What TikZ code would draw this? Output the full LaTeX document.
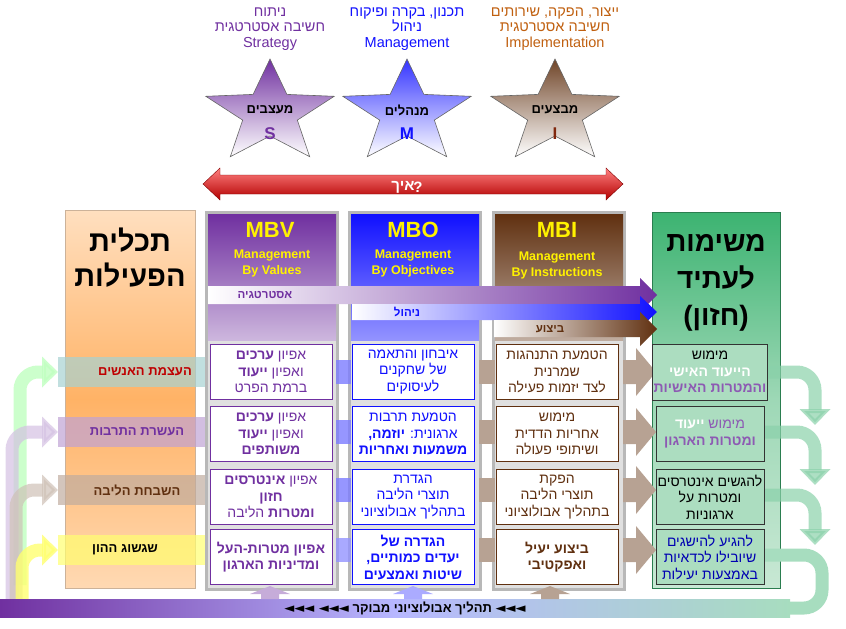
\documentclass[tikz,border=0pt]{standalone}
\usepackage{fontspec}
\setmainfont{Liberation Sans}
\newfontfamily\hebfont[Script=Hebrew]{Liberation Sans}
\newfontfamily\latfont{Liberation Sans}
\newfontfamily\symfont{DejaVu Sans}
\usetikzlibrary{shapes.geometric,arrows.meta}
\TeXXeTstate=1
\newcommand{\RL}[1]{\beginR #1\endR}
\newcommand{\mystar}[3]{\shade[shift={(#1,#2)}, xscale=1.25, top color=#3, bottom color=white, draw=black!60, line width=0.6pt]
 (-90:54) -- (-54:23) -- (-18:54) -- (18:23) -- (54:54) -- (90:23) -- (126:54) -- (162:23) -- (198:54) -- (234:23) -- cycle;}
\definecolor{cpur}{HTML}{7030A0}
\definecolor{cblu}{HTML}{1010FF}
\definecolor{cbrn}{HTML}{603010}
\definecolor{corg}{HTML}{C06010}
\definecolor{cgrn}{HTML}{3CB371}
\definecolor{cgrnl}{HTML}{C8E8D4}
\definecolor{cgray}{HTML}{B8B8B8}
\definecolor{cyel}{HTML}{FFFF33}
\tikzset{
  toplab/.style={font=\hebfont\fontsize{14.5}{15.5}\selectfont, align=center},
  box/.style={draw, line width=1pt, fill=white, minimum width=122pt, minimum height=55pt, align=center, inner sep=1pt, font=\hebfont\fontsize{14}{16.5}\selectfont},
  gbox/.style={draw=black!80, line width=1pt, fill=cgrnl!80!cgrn, minimum width=108pt, minimum height=55pt, align=center, inner sep=1pt, font=\hebfont\fontsize{14}{16.5}\selectfont},
  hdr/.style={text=yellow, font=\bfseries\fontsize{12.5}{16}\selectfont, align=center},
  mb/.style={text=yellow, font=\rmfamily\bfseries\fontsize{22}{22}\selectfont},
  rowlab/.style={font=\hebfont\bfseries\fontsize{13}{15}\selectfont},
}
\begin{document}
\begin{tikzpicture}[x=1pt,y=-1pt]
\useasboundingbox (0,0) rectangle (846,629);
% top labels
\node[toplab, text=cpur] (ls) at (270,29) {\RL{ניתוח}\\ \RL{חשיבה אסטרטגית}\\ Strategy};
\node[toplab, text=cblu] (lm) at (407,29) {\RL{תכנון, בקרה ופיקוח}\\ \RL{ניהול}\\ Management};
\node[toplab, text=corg] (li) at (555,29) {\RL{ייצור, הפקה, שירותים}\\ \RL{חשיבה אסטרטגית}\\ Implementation};
% stars
\mystar{270}{113}{cpur}
\mystar{407}{113}{cblu!85}
\mystar{555}{113}{cbrn!90}
\node[font=\hebfont\bfseries\fontsize{13}{14}\selectfont] (ts) at (270,110) {\RL{מעצבים}};
\node[font=\hebfont\bfseries\fontsize{13}{14}\selectfont] (tm) at (407,110) {\RL{מנהלים}};
\node[font=\hebfont\bfseries\fontsize{13}{14}\selectfont] (ti) at (555,110) {\RL{מבצעים}};
\node[font=\rmfamily\bfseries\fontsize{17}{18}\selectfont, text=cpur] (ts2) at (270,134) {S};
\node[font=\rmfamily\bfseries\fontsize{17}{18}\selectfont, text=cblu] (tm2) at (407,134) {M};
\node[font=\rmfamily\bfseries\fontsize{17}{18}\selectfont, text=cbrn!80!red] (ti2) at (555,134) {I};
% red double arrow
\shade[top color=red!50!white, bottom color=red!70!black, draw=red!50!black]
 (203,184) -- (220,168) -- (220,175) -- (606,175) -- (606,168) -- (623,184) -- (606,200) -- (606,194) -- (220,194) -- (220,200) -- cycle;
\node[text=white, font=\hebfont\bfseries\fontsize{15}{16}\selectfont, inner sep=0pt] (how) at (403,187) {\RL{איך}};
\node[text=white, font=\latfont\bfseries\fontsize{15}{16}\selectfont, inner sep=0pt] (howq) at (418,187) {?};
% left orange column
\shade[top color=orange!25, bottom color=orange!30, middle color=orange!60, draw=orange!50!black!40] (65,210) rectangle (195,588);
\node[font=\hebfont\bfseries\fontsize{29}{35}\selectfont, align=center] (goal) at (130,258) {\RL{תכלית}\\ \RL{הפעילות}};
% right green column
\shade[top color=cgrn, bottom color=cgrnl, middle color=cgrnl!70!cgrn, draw=cgrn!70!black] (652,212) rectangle (780,588);
\node[font=\hebfont\bfseries\fontsize{28}{37}\selectfont, align=center] (fut) at (716,283) {\RL{משימות}\\ \RL{לעתיד}\\ {\latfont\bfseries (}\RL{חזון}{\latfont\bfseries )}};
% columns
\foreach \xa/\c in {205/cpur, 348/cblu, 492/cbrn} {
  \fill[cgray] (\xa,211) rectangle (\xa+134,591);
  \fill[black!12] (\xa+3,214) rectangle (\xa+131,588);
}
\shade[top color=cpur, bottom color=cpur!35] (208,214) rectangle (336,340);
\shade[top color=cblu, bottom color=cblu!45] (351,214) rectangle (479,340);
\shade[top color=cbrn, bottom color=cbrn!40] (495,214) rectangle (623,340);
\node[mb] (mbv) at (270,230) {MBV};
\node[mb] (mbo) at (413,230) {MBO};
\node[mb] (mbi) at (557,230) {MBI};
\node[hdr] (hv) at (272,263) {Management\\ By Values};
\node[hdr] (ho) at (413,263) {Management\\ By Objectives};
\node[hdr] (hi) at (557,265) {Management\\ By Instructions};
% horizontal arrows
\shade[left color=white, right color=cpur] (208,286) -- (640,286) -- (640,278) -- (657,295) -- (640,312) -- (640,304) -- (208,304) -- cycle;
\node[text=cpur, font=\hebfont\bfseries\fontsize{11.5}{12}\selectfont] (ast) at (265,295) {\RL{אסטרטגיה}};
\shade[left color=white, right color=cblu] (352,304) -- (640,304) -- (640,296) -- (657,312) -- (640,328) -- (640,320) -- (352,320) -- cycle;
\node[text=cblu, font=\hebfont\bfseries\fontsize{11.5}{12}\selectfont] (nih) at (407,312) {\RL{ניהול}};
\shade[left color=white, right color=cbrn] (494,320) -- (640,320) -- (640,312) -- (657,329) -- (640,346) -- (640,337) -- (494,337) -- cycle;
\node[text=cbrn, font=\hebfont\bfseries\fontsize{11.5}{12}\selectfont] (biz) at (550,329) {\RL{ביצוע}};
% row bands
\foreach \y/\cl/\cr in {372/teal!35/cblu!55, 432/cpur!45/cblu!55, 490/cbrn!40/cblu!55, 550/cyel!70/cblu!45} {
  \fill[\cl, opacity=.7] (58,\y-15) rectangle (205,\y+15);
  \fill[\cr, opacity=.8] (336,\y-12) rectangle (351,\y+12);
  \fill[cbrn!45] (479,\y-12) rectangle (495,\y+12);
  \fill[cbrn!45] (623,\y-12) -- (636,\y-12) -- (636,\y-24) -- (656,\y) -- (636,\y+24) -- (636,\y+12) -- (623,\y+12) -- cycle;
}
% left loops
\draw[line width=13pt, green!25, opacity=.8, rounded corners=18pt, -{Triangle[length=16pt,width=30pt]}] (20,585) -- (20,372) -- (58,372);
\draw[line width=13pt, cpur!30, opacity=.7, rounded corners=18pt, -{Triangle[length=16pt,width=30pt]}] (12,600) -- (12,432) -- (58,432);
\draw[line width=13pt, cbrn!30, opacity=.7, rounded corners=18pt, -{Triangle[length=16pt,width=30pt]}] (16,600) -- (16,490) -- (58,490);
\draw[line width=13pt, cyel!70, opacity=.8, rounded corners=18pt, -{Triangle[length=16pt,width=30pt]}] (22,605) -- (22,550) -- (58,550);
\node[rowlab, text=red!75!black] (r1) at (145,372) {\RL{העצמת האנשים}};
\node[rowlab, text=cpur] (r2) at (137,432) {\RL{העשרת התרבות}};
\node[rowlab, text=cbrn] (r3) at (137,490) {\RL{השבחת הליבה}};
\node[rowlab] (r4) at (125,550) {\RL{שגשוג ההון}};
% right loops
\foreach \ya/\yb in {372/425, 432/485, 495/545} {
  \draw[line width=13pt, cgrn!60, opacity=.7, rounded corners=18pt, -{Triangle[length=16pt,width=30pt]}] (765,\ya) -- (815,\ya) -- (815,\yb);
}
% bottom band
\draw[line width=13pt, cgrn!45, rounded corners=18pt] (765,555) -- (822,555) -- (822,608) -- (780,608);
\shade[left color=cpur, right color=cgrn!45, middle color=cblu!30] (0,599) rectangle (790,617);
\node[font=\hebfont\bfseries\fontsize{13}{15}\selectfont] (evo) at (405,608) {{\symfont ◄◄◄ ◄◄◄} \RL{תהליך אבולוציוני מבוקר} {\symfont ◄◄◄}};
% up arrows
\foreach \x/\c in {270/cpur!40, 413/cblu!35, 550/cbrn!45} {
  \fill[\c] (\x-9,599) -- (\x-9,594) -- (\x-20,594) -- (\x,586) -- (\x+20,594) -- (\x+9,594) -- (\x+9,599) -- cycle;
}
% boxes MBV
\node[box, draw=cpur, text=cpur] (v1) at (271,372) {\RL{אפיון \textbf{ערכים}}\\ \RL{ואפיון \textbf{ייעוד}}\\ \RL{ברמת הפרט}};
\node[box, draw=cpur, text=cpur] (v2) at (271,434) {\RL{אפיון \textbf{ערכים}}\\ \RL{ואפיון \textbf{ייעוד}}\\ \RL{\textbf{משותפים}}};
\node[box, draw=cpur, text=cpur] (v3) at (271,497) {\RL{אפיון \textbf{אינטרסים}}\\ \RL{\textbf{חזון}}\\ \RL{\textbf{ומטרות} הליבה}};
\node[box, draw=cpur, text=cpur, font=\hebfont\bfseries\fontsize{14}{16.5}\selectfont] (v4) at (271,557) {\RL{אפיון מטרות-העל}\\ \RL{ומדיניות הארגון}};
% boxes MBO
\node[box, draw=cblu, text=cblu] (o1) at (413,372) {\RL{איבחון והתאמה}\\ \RL{של שחקנים}\\ \RL{לעיסוקים}};
\node[box, draw=cblu, text=cblu] (o2) at (413,434) {\RL{הטמעת תרבות}\\ \RL{ארגונית: \textbf{יוזמה,}}\\ \RL{\textbf{משמעות ואחריות}}};
\node[box, draw=cblu, text=cblu] (o3) at (413,497) {\RL{הגדרת}\\ \RL{תוצרי הליבה}\\ \RL{בתהליך אבולוציוני}};
\node[box, draw=cblu, text=cblu, font=\hebfont\bfseries\fontsize{14}{16.5}\selectfont] (o4) at (413,557) {\RL{הגדרה של}\\ \RL{יעדים כמותיים,}\\ \RL{שיטות ואמצעים}};
% boxes MBI
\node[box, draw=cbrn, text=cbrn] (i1) at (557,372) {\RL{הטמעת התנהגות}\\ \RL{שמרנית}\\ \RL{לצד יזמות פעילה}};
\node[box, draw=cbrn, text=cbrn] (i2) at (557,434) {\RL{מימוש}\\ \RL{אחריות הדדית}\\ \RL{ושיתופי פעולה}};
\node[box, draw=cbrn, text=cbrn] (i3) at (557,497) {\RL{הפקת}\\ \RL{תוצרי הליבה}\\ \RL{בתהליך אבולוציוני}};
\node[box, draw=cbrn, text=cbrn, font=\hebfont\bfseries\fontsize{14}{16.5}\selectfont] (i4) at (557,557) {\RL{ביצוע יעיל}\\ \RL{ואפקטיבי}};
% green boxes
\node[gbox, minimum height=56pt] (g1) at (710,372) {\RL{מימוש}\\ \RL{\textbf{\textcolor{cpur!80}{הייעוד האישי}}}\\ \RL{\textbf{והמטרות האישיות}}};
\node[gbox] (g2) at (710,434) {\RL{מימוש \textbf{\textcolor{cpur!80}{ייעוד}}}\\ \RL{\textbf{ומטרות הארגון}}};
\node[gbox] (g3) at (710,497) {\RL{להגשים אינטרסים}\\ \RL{ומטרות על}\\ \RL{ארגוניות}};
\node[gbox, text=blue!70!black] (g4) at (710,557) {\RL{להגיע להישגים}\\ \RL{שיובילו לכדאיות}\\ \RL{באמצעות יעילות}};
\end{tikzpicture}
\end{document}
